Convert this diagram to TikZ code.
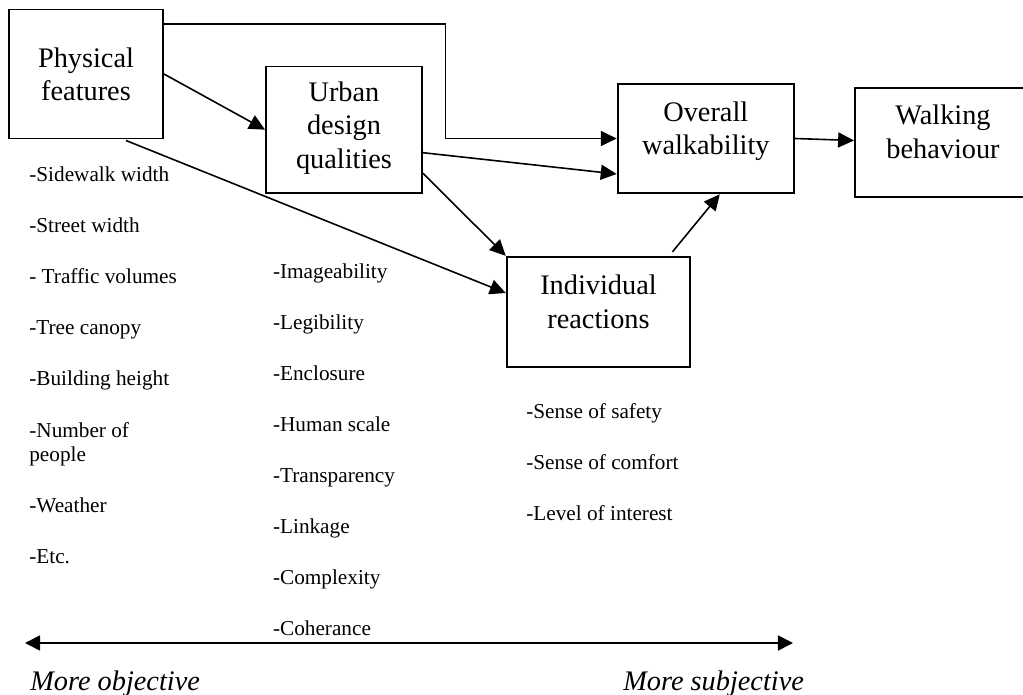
\documentclass[tikz,border=0pt]{standalone}
\usepackage{fontspec}
\setmainfont{Liberation Serif}
\usepackage{tikz}
\usetikzlibrary{positioning,arrows.meta,calc}

\begin{document}
\begin{tikzpicture}[
		x=0.565pt, y=-0.565pt,
		box/.style={draw, line width=1.1pt, inner sep=0pt},
		boxtxt/.style={anchor=north, align=center, inner sep=0pt,
				font=\fontsize{16}{19}\selectfont},
		item/.style={anchor=base west, inner sep=0pt,
				font=\fontsize{12}{13.5}\selectfont},
		side/.style={anchor=base west, inner sep=0pt,
				font=\fontsize{16}{19}\selectfont\itshape},
		arr/.style={-{Triangle[length=9pt, width=8.5pt]}, line width=0.9pt}
		]
		\useasboundingbox (0,0) rectangle (1023,695);
		\node[box, minimum width=87pt, minimum height=72.9pt,
			label={[boxtxt, yshift=-21.9pt]north:{Physical\\features}}] (phys) at (86,74) {};
		\node[box, minimum width=88.1pt, minimum height=71.4pt,
			label={[boxtxt, yshift=-8.9pt]north:{Urban\\design\\qualities}}] (urban) at (344,129.7) {};
		\node[box, minimum width=99.6pt, minimum height=61.9pt,
			label={[boxtxt, yshift=-10.4pt]north:{Overall\\walkability}}] (overall) at (705.8,138.5) {};
		\node[box, minimum width=99.4pt, minimum height=61.6pt,
			label={[boxtxt, yshift=-10pt]north:{Walking\\behaviour}}] (walk) at (943,142.3) {};
		\node[box, minimum width=103.7pt, minimum height=62.4pt,
			label={[boxtxt, yshift=-10.6pt]north:{Individual\\reactions}}] (indiv) at (598.5,312) {};
		% physical features
		\node[item] (sidewalk) at (29,181) {-Sidewalk width};
		\node[item] (street) at (29,232) {-Street width};
		\node[item] (traffic) at (29,283) {- Traffic volumes};
		\node[item] (canopy) at (29,334) {-Tree canopy};
		\node[item] (height) at (29,385) {-Building height};
		\node[item, anchor=north west, align=left] (people) at (29,422) {-Number of\\people};
		\node[item] (weather) at (29,512) {-Weather};
		\node[item] (etc) at (29,563) {-Etc.};
		% urban design qualities
		\node[item] (image) at (272.7,278) {-Imageability};
		\node[item] (legib) at (272.7,329) {-Legibility};
		\node[item] (enclos) at (272.7,380) {-Enclosure};
		\node[item] (scale) at (272.7,431) {-Human scale};
		\node[item] (transp) at (272.7,482) {-Transparency};
		\node[item] (link) at (272.7,533) {-Linkage};
		\node[item] (complex) at (272.7,584) {-Complexity};
		\node[item] (coher) at (272.7,635) {-Coherance};
		% individual reactions
		\node[item] (safety) at (526,418) {-Sense of safety};
		\node[item] (comfort) at (526,469) {-Sense of comfort};
		\node[item] (interest) at (526,520) {-Level of interest};
		% connectors
		\draw[arr] ($(phys.north east)+(0,15.5)$) -| ($(overall.west)+(-171,0)$)
		-- (overall.west);
		\draw[arr] (phys.east) -- (urban.west);
		\draw[arr] ($(phys.south east)+(-38,1)$) -- ($(indiv.west)+(0,-19)$);
		\draw[arr] ($(urban.east)+(0,23)$) -- ($(overall.west)+(0,35.5)$);
		\draw[arr] ($(urban.east)+(0,43.5)$) -- (indiv.north west);
		\draw[arr] ($(indiv.north)+(74,-4)$) -- ($(overall.south)+(14,0)$);
		\draw[arr] (overall.east) -- ($(walk.west)+(0,-1.8)$);
		% objective / subjective scale
		\coordinate (objend) at (25,643);
		\coordinate (subjend) at (793,643);
		\draw[arr, {Triangle[length=8.5pt, width=8.5pt]}-{Triangle[length=8.5pt, width=8.5pt]}]
		(objend) -- (subjend);
		\node[side] (objlbl) at (30,690) {More objective};
		\node[side] (subjlbl) at (623,690) {More subjective};
\end{tikzpicture}
\end{document}
